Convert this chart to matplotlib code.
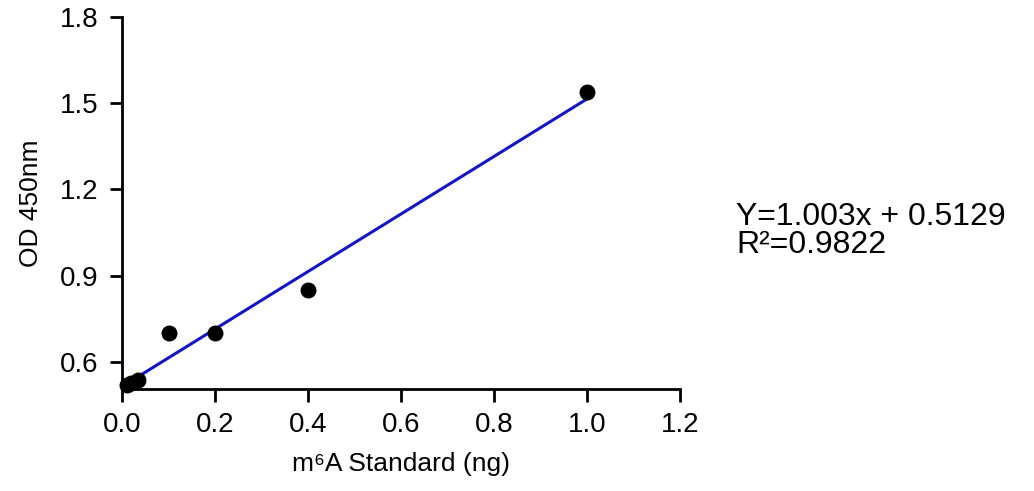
import numpy as np
import matplotlib.pyplot as plt

plt.rcParams['font.family'] = ['Liberation Sans', 'DejaVu Sans']

# standard curve data
conc = [0.01, 0.02, 0.035, 0.1, 0.2, 0.4, 1.0]
od = [0.52, 0.525, 0.535, 0.70, 0.70, 0.851, 1.538]
slope = 1.003
intercept = 0.5129
r2 = 0.9822

xticks = [0.0, 0.2, 0.4, 0.6, 0.8, 1.0, 1.2]
yticks = [0.6, 0.9, 1.2, 1.5, 1.8]

fig = plt.figure(figsize=(10.34, 4.91), dpi=100)
ax = fig.add_axes([0.118, 0.208, 0.540, 0.757])

xfit = np.array([0.0, 1.0])
ax.plot(xfit, slope * xfit + intercept, color='#1414c8', lw=2.2, zorder=2)
ax.scatter(conc, od, s=110, color='black', zorder=3, clip_on=False)

ax.set_xlim(0, 1.2)
ax.set_ylim(0.505, 1.8)
ax.set_xticks(xticks)
ax.set_yticks(yticks)
ax.set_xticklabels(['%.1f' % t for t in xticks])
ax.set_yticklabels(['%.1f' % t for t in yticks])
for s in ['top', 'right']:
    ax.spines[s].set_visible(False)
for s in ['left', 'bottom']:
    ax.spines[s].set_linewidth(2)
ax.tick_params(width=2, length=9, labelsize=20, pad=8)

ax.set_xlabel('m⁶A Standard (ng)', fontsize=19, labelpad=10)
ax.set_ylabel('OD 450nm', fontsize=19, labelpad=12)

# fit equation, one text block
eq = 'Y=%.3fx + %.4f\nR²=%.4f' % (slope, intercept, r2)
fig.text(0.712, 1 - 231 / 491, eq, fontsize=23, va='center', ha='left',
         linespacing=0.88)

fig.savefig('out.png', dpi=100)
